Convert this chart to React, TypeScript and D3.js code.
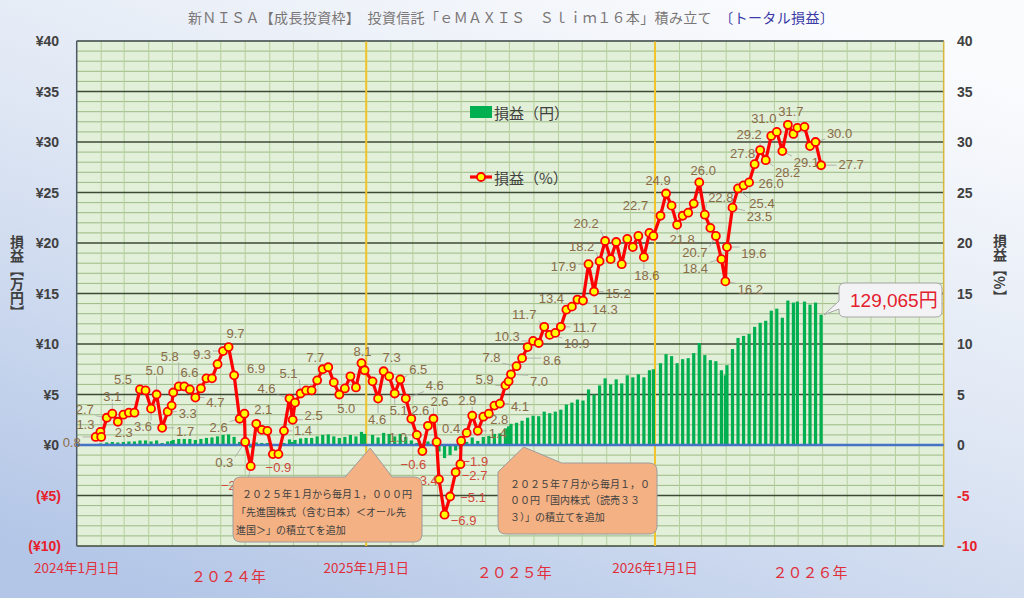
import * as d3 from "d3";

// weekly valuation dates (plus a few month-end extra points)
const dates = [
  "2024-01-25", "2024-01-31", "2024-02-01", "2024-02-08", "2024-02-15", "2024-02-22", "2024-02-29",
  "2024-03-07", "2024-03-14", "2024-03-21", "2024-03-28", "2024-04-04", "2024-04-11", "2024-04-18",
  "2024-04-25", "2024-04-30", "2024-05-02", "2024-05-09", "2024-05-16", "2024-05-23", "2024-05-30",
  "2024-06-06", "2024-06-13", "2024-06-20", "2024-06-27", "2024-07-04", "2024-07-11", "2024-07-18",
  "2024-07-25", "2024-07-31", "2024-08-01", "2024-08-08", "2024-08-15", "2024-08-22", "2024-08-29",
  "2024-09-05", "2024-09-12", "2024-09-19", "2024-09-26", "2024-09-30", "2024-10-03", "2024-10-10",
  "2024-10-17", "2024-10-24", "2024-10-31", "2024-11-07", "2024-11-14", "2024-11-21", "2024-11-28",
  "2024-12-05", "2024-12-12", "2024-12-19", "2024-12-26", "2024-12-30", "2025-01-09", "2025-01-16",
  "2025-01-23", "2025-01-30", "2025-02-06", "2025-02-13", "2025-02-20", "2025-02-27", "2025-03-06",
  "2025-03-13", "2025-03-20", "2025-03-27", "2025-03-31", "2025-04-03", "2025-04-10", "2025-04-17",
  "2025-04-24", "2025-04-30", "2025-05-01", "2025-05-08", "2025-05-15", "2025-05-22", "2025-05-29",
  "2025-06-05", "2025-06-12", "2025-06-19", "2025-06-26", "2025-06-30", "2025-07-03", "2025-07-10",
  "2025-07-17", "2025-07-24", "2025-07-31", "2025-08-07", "2025-08-14", "2025-08-21", "2025-08-28",
  "2025-09-04", "2025-09-11", "2025-09-18", "2025-09-25", "2025-10-02", "2025-10-09", "2025-10-16",
  "2025-10-23", "2025-10-30", "2025-11-06", "2025-11-13", "2025-11-20", "2025-11-27", "2025-12-04",
  "2025-12-11", "2025-12-18", "2025-12-25", "2025-12-30", "2026-01-08", "2026-01-15", "2026-01-22",
  "2026-01-29", "2026-02-05", "2026-02-12", "2026-02-19", "2026-02-26", "2026-03-05", "2026-03-12",
  "2026-03-19", "2026-03-26", "2026-03-31", "2026-04-02", "2026-04-09", "2026-04-16", "2026-04-23",
  "2026-04-30", "2026-05-07", "2026-05-14", "2026-05-21", "2026-05-28", "2026-06-04", "2026-06-11",
  "2026-06-18", "2026-06-25", "2026-06-30", "2026-07-09", "2026-07-16", "2026-07-23", "2026-07-30",
];

// 損益（%）
const profitPct = [
  0.8, 1.3, 0.8, 2.7, 3.1, 2.3, 3.0,
  3.2, 3.2, 5.5, 5.4, 3.6, 5.0, 1.7,
  3.3, 3.9, 5.2, 5.8, 5.8, 5.5, 4.7,
  5.6, 6.6, 6.6, 8.0, 9.3, 9.7, 6.9,
  2.6, 3.1, 0.3, -2.1, 2.1, 1.5, 1.4,
  -0.9, -0.9, 1.4, 4.6, 2.5, 4.2, 5.1,
  5.4, 5.4, 6.4, 7.5, 7.7, 6.2, 5.0,
  5.6, 6.8, 5.7, 8.1, 7.4, 6.3, 4.6,
  7.3, 6.8, 5.1, 6.5, 4.6, 2.6, 1.0,
  -0.6, 1.9, 2.6, 0.3, -3.4, -6.9, -5.1,
  -2.7, -1.9, 0.4, 1.2, 2.9, 1.4, 2.8,
  3.1, 3.9, 4.1, 5.9, 6.3, 7.0, 7.8,
  8.6, 9.7, 10.3, 10.1, 11.7, 10.9, 11.1,
  11.7, 13.4, 13.7, 14.4, 14.3, 17.9, 15.2,
  18.2, 20.2, 18.4, 20.1, 17.9, 20.4, 19.6,
  20.7, 18.6, 21.0, 20.7, 22.7, 24.9, 23.7,
  21.8, 22.7, 23.0, 23.9, 26.0, 22.8, 21.5,
  20.7, 18.4, 16.2, 19.6, 23.5, 25.4, 25.7,
  26.0, 27.8, 29.2, 28.2, 30.6, 31.0, 29.1,
  31.7, 30.8, 31.4, 31.5, 29.6, 30.0, 27.7,
];

// 損益（円）, in 万円
const profitMan = [
  0.1, 0.15, 0.1, 0.25, 0.3, 0.25, 0.3,
  0.35, 0.35, 0.45, 0.45, 0.35, 0.45, 0.2,
  0.35, 0.4, 0.5, 0.6, 0.6, 0.6, 0.5,
  0.6, 0.7, 0.75, 0.85, 1.0, 1.05, 0.8,
  0.3, 0.35, 0.05, -0.25, 0.25, 0.2, 0.2,
  -0.1, -0.1, 0.2, 0.55, 0.3, 0.5, 0.65,
  0.7, 0.7, 0.85, 1.0, 1.05, 0.85, 0.7,
  0.8, 1.0, 0.85, 1.3, 1.1, 1.0, 0.75,
  1.2, 1.1, 0.85, 1.1, 0.8, 0.45, 0.2,
  -0.1, 0.35, 0.5, 0.05, -0.65, -1.3, -1.0,
  -0.55, -0.4, 0.1, 0.3, 0.75, 0.4, 0.8,
  0.9, 1.1, 1.15, 1.65, 1.85, 2.1, 2.2,
  2.4, 2.7, 2.9, 2.85, 3.3, 3.15, 3.3,
  3.5, 4.0, 4.2, 4.5, 4.4, 5.5, 5.0,
  5.9, 6.6, 6.0, 6.5, 6.1, 6.9, 6.7,
  7.0, 6.7, 7.4, 7.5, 8.1, 9.0, 8.8,
  8.1, 8.5, 8.6, 9.1, 10.1, 8.9, 8.4,
  8.3, 7.4, 6.9, 7.9, 9.5, 10.6, 10.8,
  11.0, 11.7, 12.1, 12.3, 13.3, 13.5, 12.6,
  14.3, 14.1, 14.2, 14.2, 13.9, 14.1, 12.9,
];

// points that carry a data label, with the label's offset from its point
const labelSpots: [string, number, number][] = [
  ["2024-01-25", -24, 6], ["2024-01-31", -15, -7], ["2024-02-08", -22, -8], ["2024-02-15", 0, -17],
  ["2024-02-22", 6, 11], ["2024-03-21", -17, -10], ["2024-04-04", -8, 18], ["2024-04-11", -2, -24],
  ["2024-04-18", 23, 4], ["2024-04-25", 20, 2], ["2024-05-09", -9, -30], ["2024-05-30", 20, 5],
  ["2024-06-13", -17, -6], ["2024-07-04", -21, 3], ["2024-07-11", 7, -14], ["2024-07-18", 22, -7],
  ["2024-07-25", -21, 9], ["2024-08-01", -21, 21], ["2024-08-08", -17, 19], ["2024-08-15", 7, -14],
  ["2024-09-12", 0, 13], ["2024-09-19", 19, 0], ["2024-09-26", -23, -10], ["2024-09-30", 21, -4],
  ["2024-10-10", -12, -20], ["2024-11-14", -13, -10], ["2024-11-28", 7, 14], ["2024-12-26", 1, -12],
  ["2025-01-16", -1, 21], ["2025-01-23", 8, -14], ["2025-02-06", 4, 17], ["2025-02-13", 18, -10],
  ["2025-02-20", 29, -13], ["2025-02-27", 9, -8], ["2025-03-06", -19, 3], ["2025-03-13", -9, 13],
  ["2025-03-27", 6, -17], ["2025-04-03", -14, 1], ["2025-04-10", 19, 6], ["2025-04-17", 23, 1],
  ["2025-04-24", 19, 3], ["2025-04-30", 15, -3], ["2025-05-01", -10, -12], ["2025-05-15", -5, -15],
  ["2025-05-22", 20, 3], ["2025-05-29", 16, 3], ["2025-06-19", 20, 3], ["2025-06-26", -21, -6],
  ["2025-07-03", 28, 7], ["2025-07-10", -25, -9], ["2025-07-17", 30, 2], ["2025-07-31", -26, -4],
  ["2025-08-14", -20, -12], ["2025-08-21", 27, 9], ["2025-09-04", 24, 1], ["2025-09-11", -15, -11],
  ["2025-10-02", 22, 9], ["2025-10-09", -25, 2], ["2025-10-16", 24, 2], ["2025-10-23", -18, -15],
  ["2025-10-30", -19, -17], ["2025-12-18", 3, 18], ["2026-01-08", -25, -10], ["2026-01-15", -8, -13],
  ["2026-01-29", 5, 15], ["2026-02-26", 4, -12], ["2026-03-05", 16, -17], ["2026-03-19", -21, 17],
  ["2026-03-26", -26, 9], ["2026-03-31", 25, 8], ["2026-04-02", 27, 6], ["2026-04-09", 27, 9],
  ["2026-04-16", 24, 15], ["2026-04-30", 22, 1], ["2026-05-07", -12, -11], ["2026-05-14", -11, -16],
  ["2026-05-21", 22, 12], ["2026-06-04", -13, -13], ["2026-06-11", 24, 11], ["2026-06-18", 3, -13],
  ["2026-07-23", 24, -9], ["2026-07-30", 30, -1],
];

const yearLines = ["2025-01-01", "2026-01-01"];
const dateLabels = ["2024-01-01", "2025-01-01", "2026-01-01"];
const yearNames = ["２０２４年", "２０２５年", "２０２６年"];
const yearNameAt = ["2024-07-11", "2025-07-07", "2026-07-16"];

const titleMain = "新ＮＩＳＡ【成長投資枠】　投資信託「ｅＭＡＸＩＳ　Ｓｌｉｍ１６本」積み立て　";
const titleTail = "〔トータル損益〕";
const leftTitle = "損益【万円】";
const rightTitle = "損益【%】";
const note1 = ["２０２５年１月から毎月１，０００円", "「先進国株式（含む日本）＜オール先", "進国＞」の積立てを追加"];
const note2 = ["２０２５年７月から毎月１，０", "００円「国内株式（読売３３", "３）」の積立てを追加"];

const W = 1024;
const H = 598;
const plot = { left: 76.7, right: 943.7, top: 41, bottom: 546 };

const JP = "'Noto Sans CJK JP', 'Noto Sans', sans-serif";
const NUM = "'Liberation Sans', Arial, sans-serif";

interface Pt {
  date: Date;
  key: string;
  pct: number;
  man: number;
}

export default function App() {
  const parse = d3.utcParse("%Y-%m-%d");
  const x = d3
    .scaleUtc()
    .domain([parse("2024-01-01")!, parse("2027-01-01")!])
    .range([plot.left, plot.right]);
  const y = d3.scaleLinear().domain([-10, 40]).range([plot.bottom, plot.top]);

  const pts: Pt[] = dates.map((k, i) => ({ date: parse(k)!, key: k, pct: profitPct[i], man: profitMan[i] }));
  const byKey = new Map(pts.map((p) => [p.key, p]));

  const line = d3
    .line<Pt>()
    .x((d) => x(d.date))
    .y((d) => y(d.pct));

  const fmt = d3.format(".1f");
  const months = d3.utcMonth.range(parse("2024-02-01")!, parse("2027-01-01")!);
  const units = d3.range(-10, 41);
  const ticks = y.ticks(10);

  // data labels with leader lines
  const labels = labelSpots.map(([k, dx, dy]) => {
    const p = byKey.get(k)!;
    const px = x(p.date);
    const py = y(p.pct);
    const text = fmt(p.pct);
    const cx = px + dx;
    const cy = py + dy;
    const hw = text.length * 3.6;
    const hh = 6;
    const nx = Math.max(cx - hw, Math.min(px, cx + hw));
    const ny = Math.max(cy - hh, Math.min(py, cy + hh));
    const dist = Math.hypot(nx - px, ny - py);
    return { text, cx, cy, px, py, nx, ny, lead: dist > 8, neg: p.pct < 0 };
  });

  const last = pts[pts.length - 1];
  const tipX = x(last.date);
  const tipY = y(last.man);

  const zeroY = y(0);
  const a1 = x(parse("2025-01-06")!);
  const a2 = x(parse("2025-07-19")!);

  const callout1 = `M241,477 L${a1 - 25},477 L${a1},${zeroY + 3} L${a1 + 22},477 L414,477 Q422,477 422,485 L422,534 Q422,542 414,542 L241,542 Q233,542 233,534 L233,485 Q233,477 241,477 Z`;
  const callout2 = `M498,472 L${a2},${zeroY + 2} L${a2 + 38},463 L649,463 Q657,463 657,471 L657,526 Q657,534 649,534 L506,534 Q498,534 498,526 Z`;
  const callout3 = `M845,283 L936,283 Q942,283 942,289 L942,311 Q942,317 936,317 L845,317 Q839,317 839,311 L839,309 L${tipX + 3},${tipY} L839,301 L839,289 Q839,283 845,283 Z`;

  const vertical = { writingMode: "vertical-rl" as const };

  return (
    <svg width={W} height={H} style={{ position: "absolute", left: 0, top: 0 }}>
      <defs>
        <linearGradient id="bg" x1="0.75" y1="0" x2="0.15" y2="1">
          <stop offset="0" stopColor="#fafbfd" />
          <stop offset="0.45" stopColor="#dfe7f4" />
          <stop offset="1" stopColor="#b3c6e7" />
        </linearGradient>
        <clipPath id="plotClip">
          <rect x={plot.left} y={plot.top} width={plot.right - plot.left} height={plot.bottom - plot.top} />
        </clipPath>
      </defs>

      <rect width={W} height={H} fill="url(#bg)" />

      {/* title */}
      <text x={188} y={23} fontFamily={JP} fontSize={14} letterSpacing={0.35} fill="#7a7676" xmlSpace="preserve">
        <tspan>{titleMain}</tspan>
        <tspan fill="#3b3ba8">{titleTail}</tspan>
      </text>

      {/* plot area */}
      <rect x={plot.left} y={plot.top} width={plot.right - plot.left} height={plot.bottom - plot.top} fill="#e2efd9" />

      {units
        .filter((v) => v % 5 !== 0)
        .map((v) => (
          <line key={`m${v}`} x1={plot.left} x2={plot.right} y1={y(v)} y2={y(v)} stroke="#9bbb84" strokeWidth={1} />
        ))}
      {months.map((m) => (
        <line key={`v${+m}`} x1={x(m)} x2={x(m)} y1={plot.top} y2={plot.bottom} stroke="#b6d09e" strokeWidth={1} />
      ))}
      {ticks.map((v) => (
        <line key={`M${v}`} x1={plot.left} x2={plot.right} y1={y(v)} y2={y(v)} stroke="#3f4a36" strokeWidth={1.5} />
      ))}
      {yearLines.map((k) => (
        <line key={k} x1={x(parse(k)!)} x2={x(parse(k)!)} y1={plot.top} y2={plot.bottom} stroke="#f2c42a" strokeWidth={2} />
      ))}
      <line x1={plot.left} x2={plot.left} y1={plot.top} y2={plot.bottom} stroke="#4b5a66" strokeWidth={1.5} />
      <line x1={plot.right} x2={plot.right} y1={plot.top} y2={plot.bottom} stroke="#d8b640" strokeWidth={1.5} />
      <line x1={plot.left} x2={plot.right} y1={plot.top} y2={plot.top} stroke="#5c6b74" strokeWidth={1} />

      {/* bars: 損益（円） */}
      <g clipPath="url(#plotClip)">
        {pts.map((d) => (
          <rect
            key={`b${d.key}`}
            x={x(d.date) - 1.6}
            width={3.2}
            y={Math.min(y(d.man), zeroY)}
            height={Math.abs(y(d.man) - zeroY)}
            fill="#00b050"
          />
        ))}
      </g>

      <line x1={plot.left} x2={plot.right} y1={zeroY} y2={zeroY} stroke="#4472c4" strokeWidth={2.5} />

      {/* leader lines */}
      {labels
        .filter((l) => l.lead)
        .map((l, i) => (
          <line key={`ld${i}`} x1={l.px} y1={l.py} x2={l.nx} y2={l.ny} stroke="#a6a6a6" strokeWidth={0.8} />
        ))}

      {/* line: 損益（%） */}
      <path d={line(pts) ?? ""} fill="none" stroke="#ff0000" strokeWidth={3.2} strokeLinejoin="round" />
      {pts.map((d) => (
        <circle key={`c${d.key}`} cx={x(d.date)} cy={y(d.pct)} r={4} fill="#ffff00" stroke="#ff0000" strokeWidth={1.8} />
      ))}

      {labels.map((l, i) => (
        <text
          key={`lt${i}`}
          x={l.cx}
          y={l.cy}
          textAnchor="middle"
          dominantBaseline="central"
          fontFamily={NUM}
          fontSize={13}
          fill={l.neg ? "#d0483a" : "#8a6c48"}
        >
          {l.text}
        </text>
      ))}

      {/* callouts */}
      <path d={callout1} fill="#f4b183" stroke="#9c9c9c" strokeWidth={1} />
      {note1.map((t, i) => (
        <text key={`n1${i}`} x={i === 0 ? 242 : 236} y={493 + i * 18} dominantBaseline="central" fontFamily={JP} fontSize={10} fill="#404040">
          {t}
        </text>
      ))}
      <path d={callout2} fill="#f4b183" stroke="#9c9c9c" strokeWidth={1} />
      {note2.map((t, i) => (
        <text key={`n2${i}`} x={510} y={483 + i * 16.5} dominantBaseline="central" fontFamily={JP} fontSize={10} fill="#404040">
          {t}
        </text>
      ))}
      <path d={callout3} fill="#f3f3f6" stroke="#a6a6a6" strokeWidth={1} />
      <text x={850} y={300} dominantBaseline="central" fontFamily={`${NUM}, ${JP}`} fontSize={19} fill="#e3202c">
        129,065円
      </text>

      {/* legend */}
      <rect x={470} y={106} width={22} height={12} fill="#00b050" />
      <text x={494} y={112} dominantBaseline="central" fontFamily={JP} fontSize={15} fill="#404040">
        損益（円）
      </text>
      <line x1={470} x2={492} y1={177} y2={177} stroke="#ff0000" strokeWidth={3.2} />
      <circle cx={481} cy={177} r={4} fill="#ffff00" stroke="#ff0000" strokeWidth={1.8} />
      <text x={494} y={177} dominantBaseline="central" fontFamily={JP} fontSize={15} fill="#404040">
        損益（%）
      </text>

      {/* left axis */}
      {ticks.map((v) => (
        <text
          key={`ly${v}`}
          x={v < 0 ? 61 : 59}
          y={y(v)}
          textAnchor="end"
          dominantBaseline="central"
          fontFamily={NUM}
          fontSize={14}
          fontWeight="bold"
          fill={v < 0 ? "#e8202a" : "#404040"}
        >
          {v < 0 ? `(¥${-v})` : `¥${v}`}
        </text>
      ))}
      {/* right axis */}
      {ticks.map((v) => (
        <text
          key={`ry${v}`}
          x={957}
          y={y(v)}
          dominantBaseline="central"
          fontFamily={NUM}
          fontSize={14}
          fontWeight="bold"
          fill={v < 0 ? "#e8202a" : "#404040"}
        >
          {v}
        </text>
      ))}

      {/* axis titles, vertical */}
      <text x={17} y={235} style={vertical} fontFamily={JP} fontSize={14} fontWeight="bold" fill="#404040">
        {leftTitle}
      </text>
      <text x={1000} y={234} style={vertical} fontFamily={JP} fontSize={14} fontWeight="bold" fill="#404040">
        {rightTitle}
      </text>

      {/* x labels */}
      {dateLabels.map((k) => {
        const dt = parse(k)!;
        return (
          <text
            key={`dl${k}`}
            x={x(dt)}
            y={567}
            textAnchor="middle"
            dominantBaseline="central"
            fontFamily={JP}
            fontSize={13.5}
            fill="#e0303c"
          >
            {`${dt.getUTCFullYear()}年${dt.getUTCMonth() + 1}月${dt.getUTCDate()}日`}
          </text>
        );
      })}
      {yearNames.map((t, i) => (
        <text
          key={`yn${i}`}
          x={x(parse(yearNameAt[i])!)}
          y={i === 0 ? 575 : 571}
          textAnchor="middle"
          dominantBaseline="central"
          fontFamily={JP}
          fontSize={15}
          fill="#e0303c"
        >
          {t}
        </text>
      ))}
    </svg>
  );
}
